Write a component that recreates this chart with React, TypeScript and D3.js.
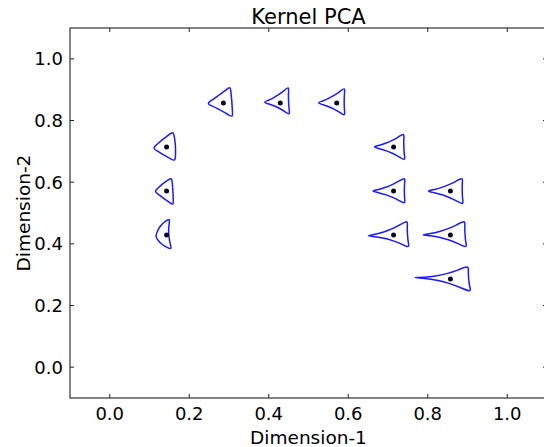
import React from "react";
import * as d3 from "d3";

// Embedded sample positions (Dimension-1, Dimension-2)
const DIM1 = [0.143, 0.143, 0.143, 0.286, 0.429, 0.571, 0.714, 0.714, 0.857, 0.714, 0.857, 0.857];
const DIM2 = [0.714, 0.571, 0.429, 0.857, 0.857, 0.857, 0.714, 0.571, 0.571, 0.429, 0.429, 0.286];

// Outline of each sample's glyph: three corner offsets in data units
// (first corner, second corner, third corner) and the bend of each side
// (positive bows outward, negative pulls inward) as a fraction of side length.
const GLYPH_A: [number, number][] = [
  [-0.0337, -0.0032], [-0.0294, -0.001], [-0.0269, -0.0055], [-0.0402, -0.002],
  [-0.042, 0.002], [-0.0487, 0], [-0.0513, 0], [-0.0553, 0],
  [-0.0588, 0], [-0.0678, -0.0032], [-0.0729, 0], [-0.094, 0.0045],
];
const GLYPH_B: [number, number][] = [
  [0.0166, 0.0487], [0.0126, 0.0422], [0.0083, 0.0519], [0.0168, 0.0519],
  [0.0209, 0.0519], [0.0201, 0.0487], [0.0259, 0.0435], [0.0284, 0.0435],
  [0.0302, 0.0435], [0.0342, 0.0464], [0.0359, 0.0464], [0.0442, 0.0422],
];
const GLYPH_C: [number, number][] = [
  [0.0209, -0.0444], [0.0166, -0.0444], [0.0126, -0.0454], [0.0226, -0.0454],
  [0.0234, -0.038], [0.0201, -0.0412], [0.0284, -0.0431], [0.0284, -0.0409],
  [0.0317, -0.0431], [0.0384, -0.0412], [0.0402, -0.0412], [0.0503, -0.0422],
];
const GLYPH_BEND: [number, number, number][] = [
  [0.03, 0.05, 0.03], [0.05, 0.02, 0.02], [0.14, -0.07, 0.12], [0.0, 0.02, -0.01],
  [-0.05, -0.02, -0.05], [-0.05, -0.02, -0.05], [-0.05, -0.02, -0.05], [-0.05, -0.02, -0.05],
  [-0.05, -0.02, -0.05], [-0.06, -0.02, -0.06], [-0.06, -0.02, -0.06], [-0.06, -0.02, -0.06],
];

const TICKS = [0.0, 0.2, 0.4, 0.6, 0.8, 1.0];
const TITLE = "Kernel PCA";
const X_LABEL = "Dimension-1";
const Y_LABEL = "Dimension-2";

const W = 544;
const H = 447;
const FONT = "DejaVu Sans, Liberation Sans, sans-serif";

export default function App() {
  const left = 70, right = 547, top = 28, bottom = 398;
  const sx = d3.scaleLinear().domain([-0.1, 1.1]).range([left, right]);
  const sy = d3.scaleLinear().domain([-0.1, 1.1]).range([bottom, top]);
  const line = d3.line<[number, number]>().curve(d3.curveBasisClosed);

  const glyphPath = (i: number) => {
    const x = DIM1[i], y = DIM2[i];
    const corners: [number, number][] = [GLYPH_A[i], GLYPH_B[i], GLYPH_C[i]].map(
      ([dx, dy]) => [sx(x + dx), sy(y + dy)] as [number, number]
    );
    const cx = d3.mean(corners, (p) => p[0])!;
    const cy = d3.mean(corners, (p) => p[1])!;
    const pts: [number, number][] = [];
    for (let k = 0; k < 3; k++) {
      const a = corners[k], b = corners[(k + 1) % 3];
      const ex = b[0] - a[0], ey = b[1] - a[1];
      const len = Math.hypot(ex, ey);
      let nx = -ey / len, ny = ex / len;
      const mx = (a[0] + b[0]) / 2 - cx, my = (a[1] + b[1]) / 2 - cy;
      if (nx * mx + ny * my < 0) { nx = -nx; ny = -ny; }
      // push the corner slightly outward so the rounded spline still reaches it
      pts.push([a[0] + (a[0] - cx) * 0.06, a[1] + (a[1] - cy) * 0.06]);
      for (const t of [0.2, 0.4, 0.6, 0.8]) {
        const off = 4 * t * (1 - t) * GLYPH_BEND[i][k] * len;
        pts.push([a[0] + t * ex + nx * off, a[1] + t * ey + ny * off]);
      }
    }
    return line(pts) || "";
  };

  const tickLen = 4;
  return (
    <svg
      width={W}
      height={H}
      style={{ position: "absolute", left: 0, top: 0, background: "#fff" }}
      fontFamily={FONT}
    >
      <rect x={0} y={0} width={W} height={H} fill="#fff" />
      {/* glyph outlines */}
      {DIM1.map((_, i) => (
        <path key={`g${i}`} d={glyphPath(i)} fill="none" stroke="#1a1aff" strokeWidth={1.5} strokeLinejoin="round" />
      ))}
      {/* sample points */}
      {DIM1.map((x, i) => (
        <circle key={`p${i}`} cx={sx(x)} cy={sy(DIM2[i])} r={2.5} fill="#0a0a28" />
      ))}
      {/* ticks on all four sides, pointing inward */}
      {TICKS.map((t) => (
        <g key={`t${t}`} stroke="#222" strokeWidth={1}>
          <line x1={sx(t)} x2={sx(t)} y1={bottom} y2={bottom - tickLen} />
          <line x1={sx(t)} x2={sx(t)} y1={top} y2={top + tickLen} />
          <line x1={left} x2={left + tickLen} y1={sy(t)} y2={sy(t)} />
          <line x1={right} x2={right - tickLen} y1={sy(t)} y2={sy(t)} />
        </g>
      ))}
      {/* frame */}
      <rect x={left} y={top} width={right - left} height={bottom - top} fill="none" stroke="#333" strokeWidth={1.2} />
      {/* tick labels */}
      {TICKS.map((t) => (
        <text key={`xl${t}`} x={sx(t)} y={420} textAnchor="middle" fontSize={18} fill="#000">
          {t.toFixed(1)}
        </text>
      ))}
      {TICKS.map((t) => (
        <text key={`yl${t}`} x={63} y={sy(t) + 6.5} textAnchor="end" fontSize={18} fill="#000">
          {t.toFixed(1)}
        </text>
      ))}
      {/* title and axis labels */}
      <text x={(left + right) / 2} y={23.5} textAnchor="middle" fontSize={21} fill="#000">
        {TITLE}
      </text>
      <text x={(left + right) / 2} y={444} textAnchor="middle" fontSize={18.5} fill="#000">
        {X_LABEL}
      </text>
      <text
        transform={`translate(30, ${(top + bottom) / 2}) rotate(-90)`}
        textAnchor="middle"
        fontSize={18.5}
        fill="#000"
      >
        {Y_LABEL}
      </text>
    </svg>
  );
}
